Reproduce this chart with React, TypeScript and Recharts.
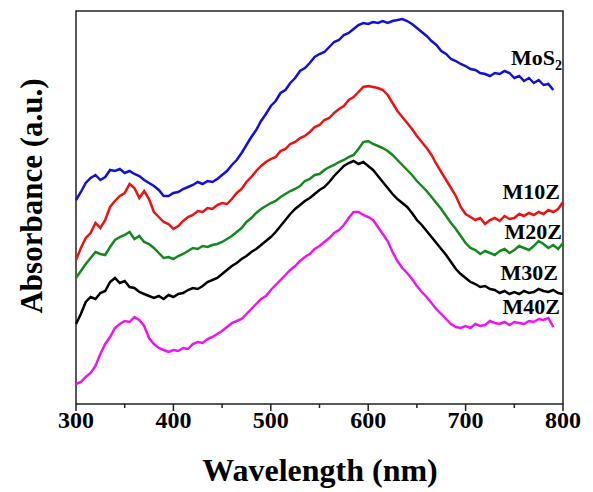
import { LineChart, Line, XAxis, YAxis, ReferenceArea, Customized } from 'recharts'

const wavelengths = [
  300, 305, 310, 315, 320, 325, 330, 335, 340, 345,
  350, 355, 360, 365, 370, 375, 380, 385, 390, 395,
  400, 405, 410, 415, 420, 425, 430, 435, 440, 445,
  450, 455, 460, 465, 470, 475, 480, 485, 490, 495,
  500, 505, 510, 515, 520, 525, 530, 535, 540, 545,
  550, 555, 560, 565, 570, 575, 580, 585, 590, 595,
  600, 605, 610, 615, 620, 625, 630, 635, 640, 645,
  650, 655, 660, 665, 670, 675, 680, 685, 690, 695,
  700, 705, 710, 715, 720, 725, 730, 735, 740, 745,
  750, 755, 760, 765, 770, 775, 780, 785, 790, 795, 800,
]

const mos2 = [
  2.04, 2.12, 2.21, 2.26, 2.29, 2.24, 2.27, 2.34, 2.33, 2.35,
  2.31, 2.33, 2.30, 2.28, 2.24, 2.21, 2.18, 2.14, 2.08, 2.08,
  2.11, 2.12, 2.15, 2.17, 2.19, 2.22, 2.20, 2.23, 2.22, 2.25,
  2.29, 2.33, 2.39, 2.44, 2.51, 2.59, 2.67, 2.74, 2.83, 2.90,
  2.98, 3.03, 3.11, 3.14, 3.21, 3.26, 3.33, 3.36, 3.41, 3.47,
  3.50, 3.52, 3.57, 3.62, 3.64, 3.69, 3.71, 3.75, 3.79, 3.81,
  3.80, 3.82, 3.81, 3.83, 3.81, 3.83, 3.84, 3.85, 3.83, 3.80,
  3.76, 3.72, 3.68, 3.63, 3.59, 3.53, 3.50, 3.45, 3.43, 3.40,
  3.38, 3.35, 3.34, 3.31, 3.30, 3.28, 3.31, 3.30, 3.33, 3.31,
  3.26, 3.28, 3.23, 3.26, 3.21, 3.24, 3.19, 3.20, 3.14, null, null,
]

const m10z = [
  1.44, 1.56, 1.66, 1.71, 1.81, 1.76, 1.84, 1.97, 2.03, 2.08,
  2.11, 2.20, 2.16, 2.06, 2.13, 2.05, 1.92, 1.87, 1.82, 1.80,
  1.75, 1.78, 1.83, 1.87, 1.89, 1.93, 1.92, 1.96, 1.95, 1.99,
  2.01, 2.00, 2.05, 2.11, 2.15, 2.22, 2.27, 2.33, 2.38, 2.42,
  2.45, 2.47, 2.53, 2.55, 2.60, 2.62, 2.66, 2.68, 2.72, 2.77,
  2.79, 2.84, 2.86, 2.91, 2.95, 2.98, 3.04, 3.07, 3.12, 3.17,
  3.18, 3.17, 3.16, 3.14, 3.09, 3.01, 2.93, 2.87, 2.81, 2.75,
  2.68, 2.62, 2.56, 2.49, 2.40, 2.32, 2.24, 2.16, 2.08, 1.97,
  1.90, 1.87, 1.84, 1.86, 1.80, 1.84, 1.86, 1.83, 1.88, 1.85,
  1.86, 1.90, 1.88, 1.91, 1.89, 1.92, 1.90, 1.94, 1.92, 1.95, 2.02,
]

const m20z = [
  1.26, 1.33, 1.40, 1.46, 1.52, 1.50, 1.49, 1.57, 1.64, 1.67,
  1.69, 1.72, 1.65, 1.68, 1.62, 1.60, 1.56, 1.51, 1.46, 1.47,
  1.45, 1.48, 1.50, 1.53, 1.56, 1.55, 1.58, 1.57, 1.59, 1.60,
  1.62, 1.65, 1.68, 1.72, 1.76, 1.82, 1.86, 1.91, 1.95, 1.98,
  2.01, 2.03, 2.07, 2.10, 2.13, 2.15, 2.18, 2.23, 2.25, 2.29,
  2.30, 2.34, 2.37, 2.39, 2.42, 2.44, 2.47, 2.49, 2.55, 2.62,
  2.63, 2.60, 2.58, 2.56, 2.53, 2.49, 2.44, 2.39, 2.34, 2.29,
  2.23, 2.18, 2.13, 2.07, 2.01, 1.95, 1.88, 1.81, 1.75, 1.68,
  1.61, 1.56, 1.54, 1.50, 1.53, 1.51, 1.49, 1.53, 1.55, 1.51,
  1.54, 1.58, 1.56, 1.54, 1.58, 1.63, 1.60, 1.56, 1.59, 1.55, 1.61,
]

const m30z = [
  0.80, 0.90, 1.02, 1.07, 1.05, 1.11, 1.13, 1.22, 1.26, 1.21,
  1.23, 1.17, 1.16, 1.12, 1.10, 1.08, 1.06, 1.08, 1.05, 1.09,
  1.07, 1.10, 1.11, 1.14, 1.16, 1.15, 1.18, 1.22, 1.24, 1.26,
  1.30, 1.34, 1.38, 1.41, 1.45, 1.48, 1.52, 1.55, 1.59, 1.63,
  1.67, 1.72, 1.78, 1.84, 1.90, 1.95, 1.99, 2.03, 2.06, 2.10,
  2.14, 2.17, 2.22, 2.28, 2.33, 2.38, 2.41, 2.43, 2.40, 2.42,
  2.38, 2.34, 2.28, 2.22, 2.16, 2.10, 2.05, 2.01, 1.97, 1.91,
  1.84, 1.79, 1.73, 1.67, 1.61, 1.55, 1.49, 1.42, 1.35, 1.30,
  1.26, 1.22, 1.20, 1.17, 1.18, 1.15, 1.14, 1.11, 1.13, 1.10,
  1.12, 1.10, 1.13, 1.11, 1.12, 1.15, 1.13, 1.12, 1.14, 1.11, 1.10,
]

const m40z = [
  0.20, 0.22, 0.27, 0.31, 0.38, 0.50, 0.60, 0.67, 0.76, 0.80,
  0.83, 0.82, 0.87, 0.84, 0.78, 0.66, 0.60, 0.56, 0.54, 0.52,
  0.54, 0.53, 0.56, 0.55, 0.60, 0.62, 0.61, 0.65, 0.67, 0.70,
  0.73, 0.77, 0.81, 0.83, 0.85, 0.90, 0.95, 1.00, 1.05, 1.08,
  1.14, 1.19, 1.24, 1.29, 1.34, 1.38, 1.43, 1.47, 1.50, 1.55,
  1.58, 1.62, 1.66, 1.71, 1.74, 1.79, 1.86, 1.92, 1.92, 1.89,
  1.87, 1.84, 1.77, 1.70, 1.63, 1.52, 1.43, 1.36, 1.31, 1.25,
  1.18, 1.12, 1.07, 1.01, 0.95, 0.90, 0.85, 0.80, 0.77, 0.76,
  0.78, 0.76, 0.80, 0.78, 0.79, 0.83, 0.81, 0.80, 0.82, 0.79,
  0.82, 0.81, 0.80, 0.83, 0.82, 0.85, 0.84, 0.86, 0.77, null, null,
]

const xTicks = [300, 350, 400, 450, 500, 550, 600, 650, 700, 750, 800]

const data = wavelengths.map((wl, i) => ({
  wl,
  mos2: mos2[i],
  m10z: m10z[i],
  m20z: m20z[i],
  m30z: m30z[i],
  m40z: m40z[i],
}))

const serif = '"Liberation Serif", "Times New Roman", serif'

function XTick({ x, y, payload }: { x?: number; y?: number; payload?: { value: number } }) {
  const v = payload?.value ?? 0
  const major = v % 100 === 0
  return (
    <g>
      <line x1={x} x2={x} y1={y} y2={(y ?? 0) + (major ? 7 : 4)} stroke="#222" strokeWidth={1.5} />
      {major && (
        <text x={x} y={(y ?? 0) + 24} textAnchor="middle" fontFamily={serif} fontWeight="bold" fontSize={24} fill="#000">
          {v}
        </text>
      )}
    </g>
  )
}

function Labels() {
  const t = { fontFamily: serif, fontWeight: 'bold', fontSize: 22, fill: '#000' } as const
  return (
    <g>
      <text x={511} y={65} {...t}>
        MoS<tspan fontSize={14} dy={5}>2</tspan>
      </text>
      <text x={560} y={199} textAnchor="end" {...t}>M10Z</text>
      <text x={562} y={239} textAnchor="end" {...t}>M20Z</text>
      <text x={558} y={280} textAnchor="end" {...t}>M30Z</text>
      <text x={560} y={314} textAnchor="end" {...t}>M40Z</text>
      <text x={320} y={481} textAnchor="middle" fontFamily={serif} fontWeight="bold" fontSize={32} fill="#000">
        Wavelength (nm)
      </text>
      <text
        transform="translate(42,196) rotate(-90)"
        textAnchor="middle"
        fontFamily={serif}
        fontWeight="bold"
        fontSize={31}
        fill="#000"
      >
        Absorbance (a.u.)
      </text>
    </g>
  )
}

export default function App() {
  return (
    <div style={{ position: 'absolute', left: 0, top: 0, background: '#fff' }}>
      <LineChart width={593} height={492} data={data} margin={{ top: 11, right: 30, left: 76, bottom: 0 }}>
        <XAxis
          dataKey="wl"
          type="number"
          domain={[300, 800]}
          ticks={xTicks}
          interval={0}
          height={88}
          axisLine={false}
          tickLine={false}
          tickSize={0}
          tickMargin={0}
          tick={<XTick />}
        />
        <YAxis type="number" domain={[0, 3.93]} hide allowDataOverflow />
        <ReferenceArea x1={300} x2={800} y1={0} y2={3.93} fill="none" stroke="#222" strokeWidth={1.5} />
        <Line dataKey="mos2" stroke="#1010d8" strokeWidth={2.5} dot={false} isAnimationActive={false} />
        <Line dataKey="m10z" stroke="#ee1111" strokeWidth={2.5} dot={false} isAnimationActive={false} />
        <Line dataKey="m20z" stroke="#14881c" strokeWidth={2.5} dot={false} isAnimationActive={false} />
        <Line dataKey="m30z" stroke="#000000" strokeWidth={2.5} dot={false} isAnimationActive={false} />
        <Line dataKey="m40z" stroke="#ee14ee" strokeWidth={2.5} dot={false} isAnimationActive={false} />
        <Customized component={<Labels />} />
      </LineChart>
    </div>
  )
}
